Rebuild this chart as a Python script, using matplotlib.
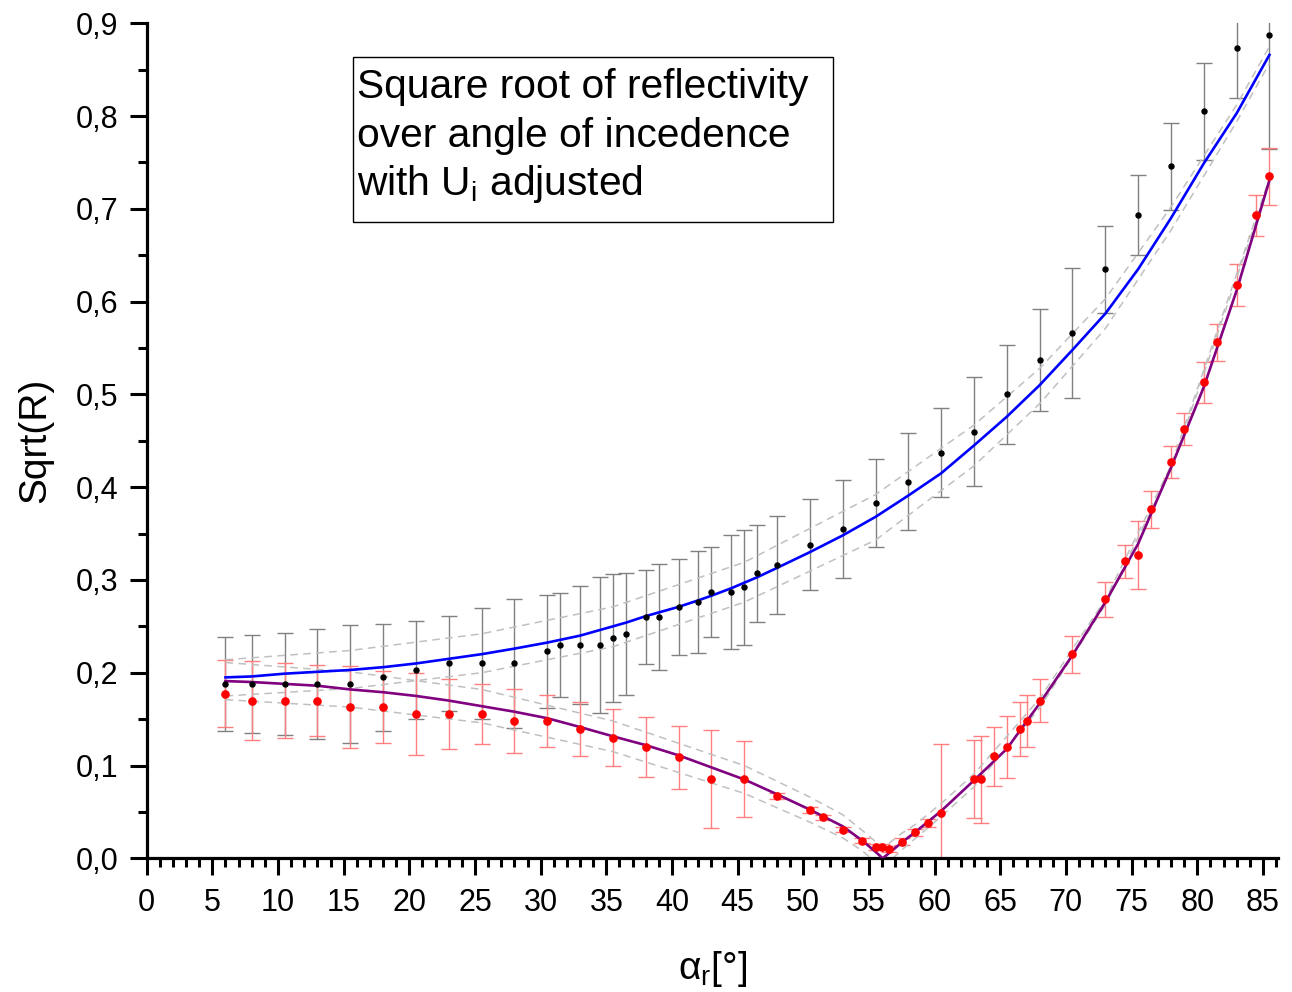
import numpy as np
import matplotlib
matplotlib.use("Agg")
import matplotlib.pyplot as plt
import matplotlib.ticker as ticker
from matplotlib.patches import Rectangle

plt.rcParams['font.family'] = ['Liberation Sans', 'DejaVu Sans']
plt.rcParams['mathtext.default'] = 'regular'

# measured sqrt(R), s-polarisation (black)
s_angle = [6, 8, 10.5, 13, 15.5, 18, 20.5, 23, 25.5, 28,
           30.5, 31.5, 33, 34.5, 35.5, 36.5, 38, 39, 40.5, 42,
           43, 44.5, 45.5, 46.5, 48, 50.5, 53, 55.5, 58, 60.5,
           63, 65.5, 68, 70.5, 73, 75.5, 78, 80.5, 83, 85.5]
s_val = [0.188, 0.188, 0.188, 0.188, 0.188, 0.195, 0.203, 0.210, 0.210, 0.210,
         0.223, 0.230, 0.230, 0.230, 0.237, 0.242, 0.260, 0.260, 0.271, 0.276,
         0.287, 0.287, 0.292, 0.307, 0.316, 0.338, 0.355, 0.383, 0.406, 0.437,
         0.460, 0.500, 0.537, 0.566, 0.635, 0.693, 0.746, 0.805, 0.873, 0.887]
s_err = [0.051, 0.053, 0.055, 0.059, 0.064, 0.058, 0.053, 0.051, 0.060, 0.070,
         0.061, 0.056, 0.064, 0.073, 0.069, 0.066, 0.051, 0.057, 0.052, 0.055,
         0.049, 0.061, 0.062, 0.052, 0.053, 0.049, 0.053, 0.047, 0.052, 0.048,
         0.059, 0.053, 0.055, 0.070, 0.047, 0.043, 0.047, 0.052, 0.054, 0.123]
s_fit = [0.195, 0.196, 0.199, 0.201, 0.203, 0.206, 0.210, 0.215, 0.220, 0.226,
         0.2325, 0.2355, 0.240, 0.246, 0.250, 0.254, 0.261, 0.265, 0.271, 0.278,
         0.283, 0.291, 0.297, 0.303, 0.313, 0.330, 0.348, 0.368, 0.391, 0.415,
         0.445, 0.476, 0.510, 0.548, 0.587, 0.635, 0.690, 0.749, 0.803, 0.866]

# measured sqrt(R), p-polarisation (red)
p_angle = [6, 8, 10.5, 13, 15.5, 18, 20.5, 23, 25.5, 28,
           30.5, 33, 35.5, 38, 40.5, 43, 45.5, 48, 50.5, 51.5,
           53, 54.5, 55.5, 56, 56.5, 57.5, 58.5, 59.5, 60.5, 63,
           63.5, 64.5, 65.5, 66.5, 67, 68, 70.5, 73, 74.5, 75.5,
           76.5, 78, 79, 80.5, 81.5, 83, 84.5, 85.5]
p_val = [0.1775, 0.170, 0.170, 0.170, 0.163, 0.163, 0.1555, 0.1555, 0.1555, 0.148,
         0.148, 0.139, 0.130, 0.120, 0.109, 0.0855, 0.0855, 0.067, 0.052, 0.044,
         0.031, 0.019, 0.012, 0.012, 0.010, 0.018, 0.028, 0.038, 0.049, 0.085,
         0.085, 0.110, 0.120, 0.139, 0.148, 0.170, 0.220, 0.279, 0.320, 0.327,
         0.376, 0.427, 0.463, 0.513, 0.556, 0.618, 0.693, 0.735]
p_err = [0.036, 0.043, 0.040, 0.038, 0.044, 0.039, 0.044, 0.038, 0.032, 0.034,
         0.028, 0.029, 0.031, 0.032, 0.034, 0.053, 0.041, 0.003, 0.003, 0.003,
         0.003, 0.003, 0.003, 0.003, 0.003, 0.004, 0.004, 0.004, 0.074, 0.042,
         0.047, 0.032, 0.033, 0.029, 0.028, 0.023, 0.020, 0.019, 0.018, 0.037,
         0.020, 0.017, 0.017, 0.022, 0.020, 0.023, 0.022, 0.031]

p_fit_angle = [6, 8, 10.5, 13, 15.5, 18, 20.5, 23, 25.5, 28,
               30.5, 33, 35.5, 38, 40.5, 43, 45.5, 48, 50.5, 53,
               54.5, 55.5, 56.05, 57.5, 58.5, 60.5, 63, 65.5, 68, 70.5,
               73, 75.5, 78, 80.5, 83, 85.5]
p_fit = [0.191, 0.190, 0.188, 0.186, 0.182, 0.179, 0.175, 0.170, 0.164, 0.158,
         0.151, 0.1415, 0.1315, 0.122, 0.111, 0.098, 0.085, 0.069, 0.0525, 0.0345,
         0.019, 0.007, 0.0, 0.017, 0.028, 0.051, 0.084, 0.118, 0.167, 0.219,
         0.276, 0.339, 0.421, 0.508, 0.612, 0.731]

# confidence bands (grey dashed)
s_band_angle = [6, 15.5, 25.5, 35.5, 45.5, 55.5, 63, 68, 73, 78, 83, 85.5]
s_band_hi = [0.214, 0.224, 0.242, 0.271, 0.319, 0.392, 0.467, 0.528, 0.603, 0.702, 0.812, 0.875]
s_band_lo = [0.175, 0.183, 0.200, 0.228, 0.276, 0.343, 0.423, 0.490, 0.571, 0.677, 0.794, 0.857]

p_band_angle = [6, 15.5, 25.5, 35.5, 45.5, 50.5, 53, 54.5, 55.5, 56.05,
                57.5, 58.5, 60.5, 63, 68, 73, 78, 85.5]
p_band_hi = [0.211, 0.201, 0.182, 0.148, 0.100, 0.066, 0.047, 0.030, 0.018, 0.011,
             0.027, 0.036, 0.059, 0.091, 0.172, 0.279, 0.423, 0.733]
p_band_lo = [0.171, 0.163, 0.146, 0.115, 0.070, 0.039, 0.022, 0.008, -0.004, -0.010,
             0.009, 0.021, 0.045, 0.077, 0.162, 0.273, 0.419, 0.729]

fig = plt.figure(figsize=(12.92, 9.92), dpi=100)
ax = fig.add_axes([146.7 / 1292, 1 - 858.3 / 992, (1278 - 146.7) / 1292, (858.3 - 23.3) / 992])

ax.errorbar(s_angle, s_val, yerr=s_err, fmt='none', ecolor='#808080', elinewidth=1.0,
            capsize=5.8, capthick=1.0, zorder=1)
ax.errorbar(p_angle, p_val, yerr=p_err, fmt='none', ecolor='#ff7f7f', elinewidth=1.0,
            capsize=5.8, capthick=1.0, zorder=1)

dash = dict(color='#c0c0c0', lw=1.1, dashes=(5, 3.5), zorder=2)
ax.plot(s_band_angle, s_band_hi, **dash)
ax.plot(s_band_angle, s_band_lo, **dash)
ax.plot(p_band_angle, p_band_hi, **dash)
ax.plot(p_band_angle, p_band_lo, **dash)

ax.plot(s_angle, s_fit, color='#0000ff', lw=1.9, zorder=3)
ax.plot(p_fit_angle, p_fit, color='#800080', lw=1.9, zorder=3)

ax.plot(s_angle, s_val, 'o', color='black', ms=3.6, zorder=4)
ax.plot(p_angle, p_val, 'o', color='red', ms=5.2, zorder=4)

ax.set_xlim(0, 86.15)
ax.set_ylim(0, 0.9)
ax.spines['top'].set_visible(False)
ax.spines['right'].set_visible(False)
for sp in ('left', 'bottom'):
    ax.spines[sp].set_linewidth(2.3)

ax.xaxis.set_major_locator(ticker.MultipleLocator(5))
ax.xaxis.set_minor_locator(ticker.MultipleLocator(1))
ax.yaxis.set_major_locator(ticker.MultipleLocator(0.1))
ax.yaxis.set_minor_locator(ticker.MultipleLocator(0.05))
ax.yaxis.set_major_formatter(ticker.FuncFormatter(lambda v, p: ('%.1f' % v).replace('.', ',')))
ax.tick_params(which='major', direction='out', length=12.5, width=2.2, labelsize=22, pad=8)
ax.tick_params(which='minor', direction='out', length=6.5, width=2.2)
ax.tick_params(axis='x', which='major', pad=9)

ax.set_xlabel('α$_r$[°]', fontsize=28, labelpad=22)
ax.set_ylabel('Sqrt(R)', fontsize=28, labelpad=16)

fig.patches.append(Rectangle((353 / 1292, 1 - 222 / 992), 480 / 1292, 165 / 992,
                             transform=fig.transFigure, fill=False, edgecolor='black', lw=1.0))
lines = ['Square root of reflectivity', 'over angle of incedence', 'with U$_i$ adjusted']
for k, t in enumerate(lines):
    fig.text(357 / 1292, 1 - (98.3 + 48.5 * k) / 992, t, fontsize=29.3, ha='left', va='baseline')

fig.savefig('out.png', dpi=100)
